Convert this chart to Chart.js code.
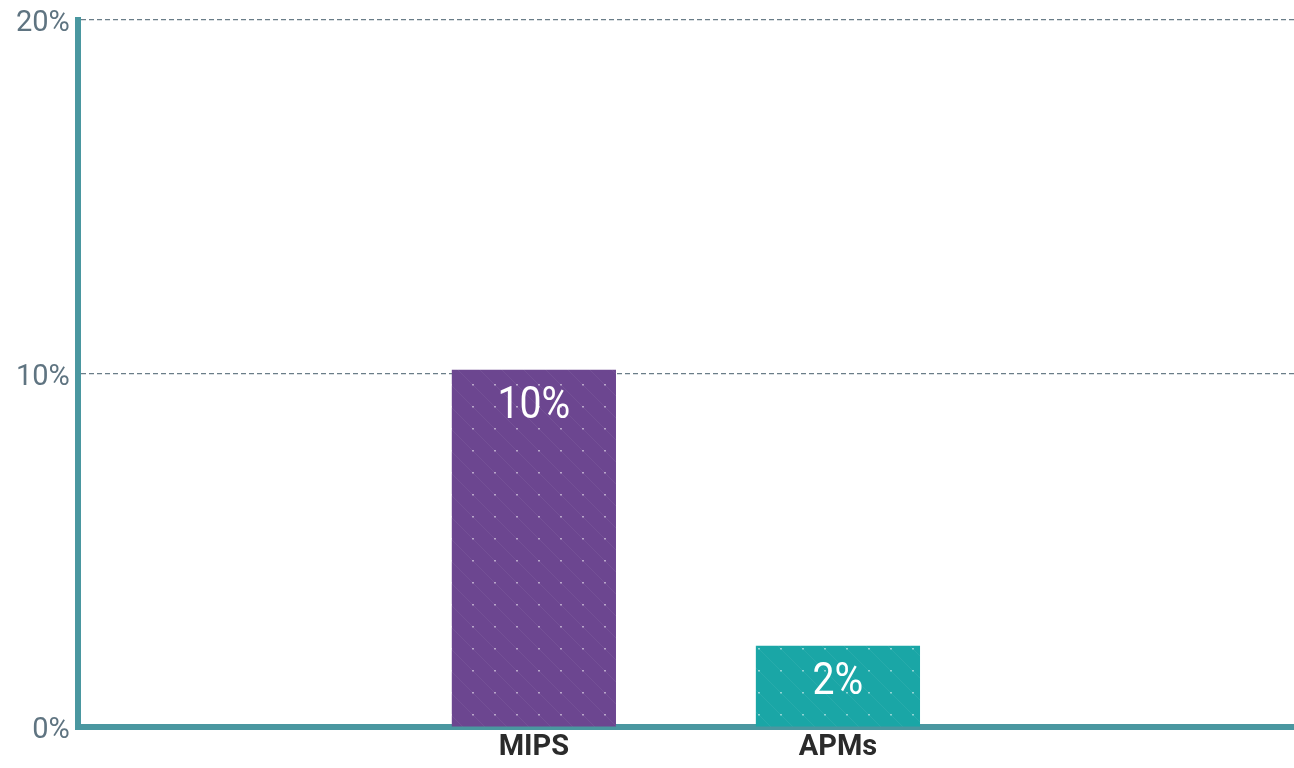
<!DOCTYPE html>
<html>
<head>
<meta charset="utf-8">
<script src="https://cdn.jsdelivr.net/npm/chart.js@4/dist/chart.umd.min.js"></script>
<style>
html,body{margin:0;padding:0;background:#fff;}
#wrap{width:1294px;height:768px;position:relative;}
</style>
</head>
<body>
<div id="wrap"><canvas id="c" width="1294" height="768"></canvas></div>
<script>
const categories = ["", "MIPS", "APMs", ""];
const values = [null, 10.1, 2.3, null];
const valueLabels = ["", "10%", "2%", ""];
const yTicks = [0, 10, 20];

function makePattern(base) {
  const p = document.createElement('canvas');
  p.width = 22; p.height = 22;
  const g = p.getContext('2d');
  g.fillStyle = base;
  g.fillRect(0, 0, 22, 22);
  g.strokeStyle = 'rgba(255,255,255,0.06)';
  g.lineWidth = 1;
  g.beginPath();
  g.moveTo(-2, -2); g.lineTo(24, 24);
  g.stroke();
  g.fillStyle = 'rgba(255,255,255,0.5)';
  g.fillRect(10, 10, 2, 1.5);
  return document.createElement('canvas').getContext('2d').createPattern(p, 'repeat');
}

const barColors = [null, makePattern('#6c4690'), makePattern('#1aa6a6'), null];

const labelPlugin = {
  id: 'valueLabels',
  afterDatasetsDraw(chart) {
    const ctx = chart.ctx;
    const meta = chart.getDatasetMeta(0);
    meta.data.forEach((bar, i) => {
      if (values[i] == null) return;
      ctx.save();
      ctx.fillStyle = '#ffffff';
      ctx.font = '400 45px Roboto';
      ctx.textAlign = 'center';
      ctx.textBaseline = 'middle';
      ctx.translate(bar.x, bar.y + 37);
      ctx.scale(0.87, 1);
      ctx.fillText(valueLabels[i], 0, 0);
      ctx.restore();
    });
  }
};

new Chart(document.getElementById('c'), {
  type: 'bar',
  data: {
    labels: categories,
    datasets: [{
      data: values,
      backgroundColor: barColors,
      borderWidth: 0,
      barPercentage: 0.54,
      categoryPercentage: 1.0
    }]
  },
  options: {
    responsive: false,
    animation: false,
    layout: { padding: { top: -4, right: -4, left: 8, bottom: 0 } },
    plugins: { legend: { display: false }, tooltip: { enabled: false } },
    scales: {
      x: {
        offset: true,
        grid: { display: false, drawTicks: false },
        border: { display: true, color: '#4a97a0', width: 6 },
        ticks: {
          color: '#2b2b2b',
          font: { family: 'Roboto', size: 29, weight: 'bold' },
          padding: 3
        }
      },
      y: {
        min: 0, max: 20,
        afterBuildTicks(scale) { scale.ticks = yTicks.map(v => ({ value: v })); },
        grid: {
          color: (c) => c.tick && c.tick.value === 0 ? 'rgba(0,0,0,0)' : '#6a7d88',
          drawTicks: false,
          lineWidth: 1.3
        },
        border: { display: true, color: '#4a97a0', width: 6, dash: [5, 3] },
        ticks: {
          color: '#5f7481',
          font: { family: 'Roboto', size: 29, weight: '400', lineHeight: 0.8 },
          padding: 8,
          labelOffset: 4,
          callback: (v) => v + '%'
        }
      }
    }
  },
  plugins: [labelPlugin]
});
</script>
</body>
</html>
